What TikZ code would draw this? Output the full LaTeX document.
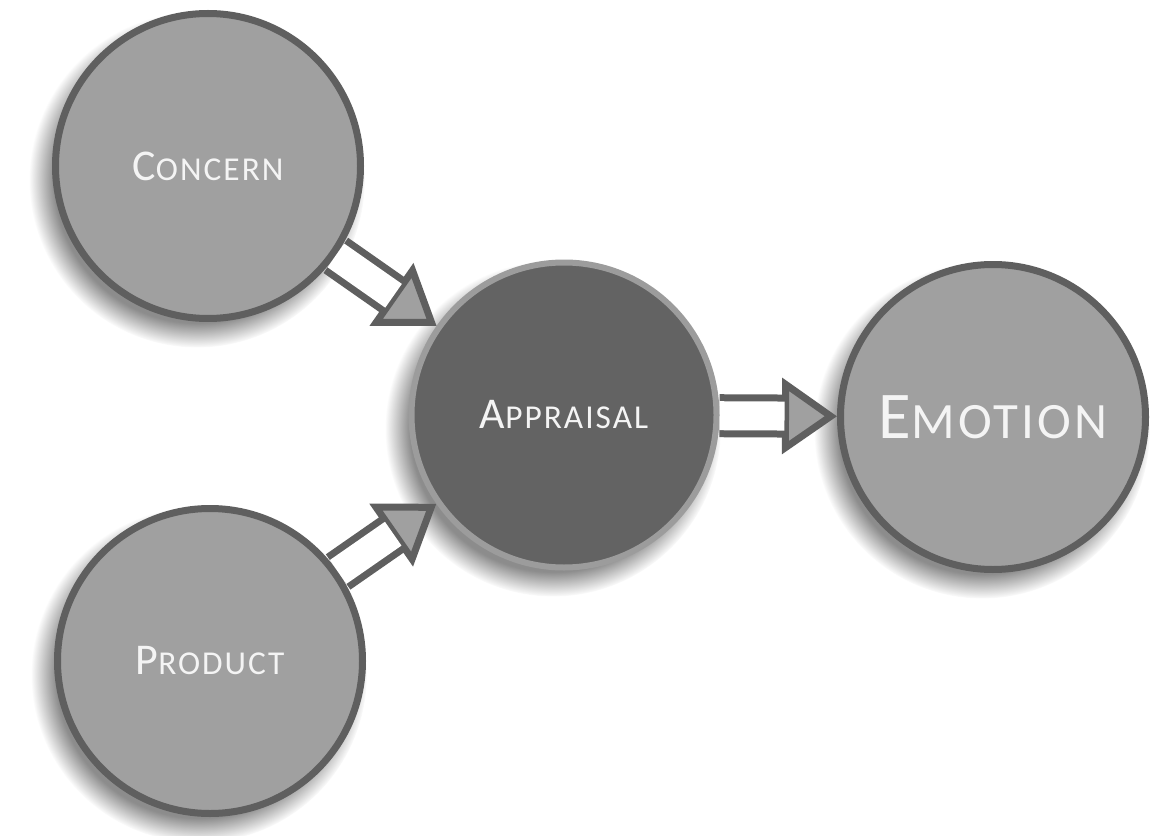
\documentclass[tikz,border=0pt]{standalone}
\usepackage{fontspec}
\setmainfont{Carlito}[LetterSpace=6]
\usetikzlibrary{shadows}
\usetikzlibrary{arrows.meta}
\definecolor{bubblegray}{HTML}{A0A0A0}
\definecolor{edgegray}{HTML}{5F5F5F}
\definecolor{coregray}{HTML}{636363}
\definecolor{rimgray}{HTML}{9C9C9C}
\definecolor{labelwhite}{HTML}{F4F4F4}
\newcommand{\capsword}[2]{{\fontsize{25}{30}\selectfont #1}{\fontsize{19}{23}\selectfont #2}}
\newcommand{\bigcapsword}[2]{{\fontsize{38}{45}\selectfont #1}{\fontsize{29}{35}\selectfont #2}}

\begin{document}
\begin{tikzpicture}[
    bubble/.style={circle, minimum size=6.1cm, inner sep=0pt, line width=0.14cm,
      draw=edgegray, fill=bubblegray, text=labelwhite,
      circular drop shadow={shadow xshift=-0.2cm, shadow yshift=-0.25cm,
        shadow scale=1.1, opacity=0.9}},
    core/.style={bubble, draw=rimgray, fill=coregray, line width=0.12cm},
    shaft/.style={draw=edgegray, line width=0.14cm, double=white,
      double distance=0.58cm, shorten >=1.05cm},
    tip/.style={draw=edgegray, line width=0.4pt,
      -{Triangle[length=1.1cm, width=1.5cm, line width=0.14cm, fill=bubblegray]}}]
  \useasboundingbox (0,0) rectangle (23.18,16.7);
  \node[bubble] (concern) at (4.16,13.38) {\capsword{C}{ONCERN}};
  \node[core] (appraisal) at (11.28,8.40) {\capsword{A}{PPRAISAL}};
  \node[bubble] (emotion) at (19.86,8.36) {\bigcapsword{E}{MOTION}};
  \node[bubble] (product) at (4.20,3.48) {\capsword{P}{RODUCT}};
  % head first, then the hollow shaft over its thin line
  \foreach \src/\dst in {concern/appraisal, product/appraisal, appraisal/emotion}
    {\draw[tip] (\src) -- (\dst);
     \draw[shaft] (\src) -- (\dst);}
\end{tikzpicture}
\end{document}
